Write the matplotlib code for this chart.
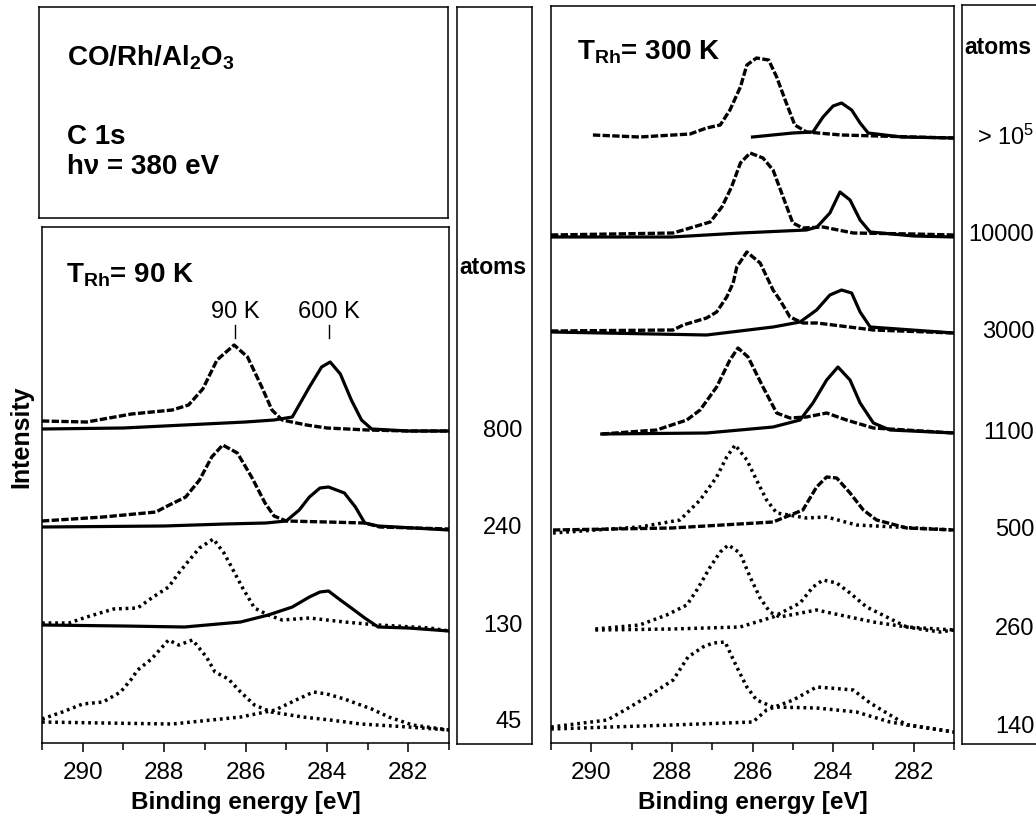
import matplotlib
matplotlib.use("Agg")
import numpy as np
import matplotlib.pyplot as plt
from matplotlib.ticker import MultipleLocator

plt.rcParams['font.family'] = ['Liberation Sans', 'DejaVu Sans']
plt.rcParams['mathtext.fontset'] = 'custom'
plt.rcParams['mathtext.rm'] = 'Liberation Sans'
plt.rcParams['mathtext.bf'] = 'Liberation Sans:bold'
plt.rcParams['mathtext.it'] = 'Liberation Sans:italic'

# --- DATA (arbitrary intensity units) ----------------------------------
# left panel: T_Rh = 90 K
LEFT_DOSES = ["800", "240", "130", "45"]
LEFT_BASE = [312, 215, 117, 21]

# 800 atoms: spectrum at 90 K / after 600 K
L800_90_E = [291.0, 289.9, 288.8, 287.8, 287.4, 287.05, 286.7, 286.28, 285.95, 285.6, 285.35, 285.1, 284.5, 284.0, 283.0, 282.0, 281.0]
L800_90_I = [10, 9, 17, 21, 26, 42, 71, 86, 74, 44, 21, 11, 6, 3, 1, 0, 0]
L800_600_E = [291.0, 289.0, 288.0, 287.0, 286.0, 285.3, 284.85, 284.43, 284.13, 283.92, 283.67, 283.4, 283.15, 282.9, 282.0, 281.0]
L800_600_I = [2, 3, 5, 7, 9, 11, 14, 44, 64, 69, 57, 31, 11, 2, 0, 0]

# 240 atoms
L240_90_E = [291.0, 289.5, 288.2, 287.97, 287.47, 287.13, 286.83, 286.56, 286.2, 285.85, 285.52, 285.3, 285.0, 284.0, 283.07, 282.7, 281.0]
L240_90_I = [7, 11, 16, 21, 31, 48, 71, 83, 75, 51, 25, 12, 7, 6, 5, 1, -1]
L240_600_E = [291.0, 288.0, 286.5, 285.5, 285.0, 284.68, 284.43, 284.17, 283.96, 283.57, 283.3, 283.07, 282.74, 281.0]
L240_600_I = [1, 2, 4, 5, 7, 18, 31, 40, 41, 35, 21, 5, 2, -2]

# 130 atoms
L130_90_E = [291.0, 290.34, 289.9, 289.24, 288.65, 288.27, 287.89, 287.64, 287.42, 287.13, 286.79, 286.53, 286.37, 286.07, 285.78, 285.44, 285.1, 284.43, 283.57, 282.74, 281.47, 281.0]
L130_90_I = [3, 3, 9, 17, 18, 29, 39, 53, 64, 78, 87, 73, 61, 38, 18, 11, 6, 8, 4, 1, -2, -5]
L130_600_E = [291.0, 289.0, 287.5, 286.12, 285.44, 284.85, 284.43, 284.17, 283.96, 283.67, 283.4, 283.07, 282.74, 282.0, 281.0]
L130_600_I = [1, 0, -1, 4, 11, 19, 29, 34, 35, 26, 18, 8, -1, -2, -5]

# 45 atoms
L45_90_E = [291.0, 290.5, 290.0, 289.5, 289.07, 288.82, 288.65, 288.31, 287.89, 287.64, 287.3, 286.96, 286.75, 286.42, 286.12, 285.78, 285.36, 284.6, 283.92, 283.16, 282.0, 281.0]
L45_90_I = [3, 10, 18, 20, 30, 42, 52, 63, 82, 77, 82, 65, 50, 43, 30, 17, 10, 5, 2, -2, -5, -8]
L45_600_E = [291.0, 289.5, 287.8, 286.12, 285.27, 284.76, 284.33, 284.0, 283.57, 283.24, 282.9, 282.48, 281.9, 281.0]
L45_600_I = [0, -1, -2, 5, 12, 22, 30, 28, 23, 18, 13, 5, -3, -8]

# right panel: T_Rh = 300 K
RIGHT_DOSES = [r"> 10$^5$", "10000", "3000", "1100", "500", "260", "140"]
RIGHT_BASE = [606, 508, 411, 310, 213, 114, 16]

R1E5_90_E = [289.96, 288.8, 287.55, 287.14, 286.8, 286.56, 286.3, 286.14, 285.9, 285.6, 285.4, 285.19, 284.95, 284.66, 283.8, 282.0, 281.0]
R1E5_90_I = [2, 0, 3, 9, 12, 27, 50, 72, 79, 77, 60, 37, 12, 5, 2, 0, -1]
R1E5_600_E = [286.0, 285.0, 284.5, 284.25, 284.0, 283.79, 283.54, 283.33, 283.13, 282.3, 281.0]
R1E5_600_I = [0, 4, 5, 20, 31, 34, 27, 14, 4, 0, -1]

R10000_90_E = [291.0, 287.97, 287.55, 287.05, 286.76, 286.52, 286.3, 286.06, 285.74, 285.49, 285.24, 285.0, 284.75, 284.25, 283.5, 282.0, 281.0]
R10000_90_I = [0, 2, 7, 13, 28, 48, 72, 82, 77, 65, 38, 12, 7, 8, 2, 1, 0]
R10000_600_E = [291.0, 288.0, 286.3, 284.66, 284.4, 284.08, 283.83, 283.58, 283.33, 283.08, 282.0, 281.0]
R10000_600_I = [-2, -2, 2, 5, 8, 22, 43, 35, 15, 3, -1, -2]

R3000_90_E = [291.0, 287.97, 287.72, 287.14, 286.89, 286.64, 286.48, 286.39, 286.14, 285.81, 285.49, 285.32, 285.07, 284.75, 284.4, 283.0, 281.0]
R3000_90_I = [1, 2, 7, 14, 20, 35, 49, 65, 80, 69, 42, 32, 15, 9, 9, 2, -1]
R3000_600_E = [291.0, 287.14, 285.49, 284.82, 284.41, 284.08, 283.79, 283.54, 283.33, 283.08, 281.0]
R3000_600_I = [0, -3, 5, 10, 22, 37, 42, 39, 20, 5, -1]

R1100_90_E = [289.74, 288.38, 287.63, 287.3, 286.89, 286.56, 286.36, 286.11, 285.74, 285.4, 285.07, 284.66, 284.16, 283.67, 283.0, 281.0]
R1100_90_I = [-1, 3, 13, 23, 46, 73, 85, 76, 46, 20, 15, 16, 20, 13, 5, 0]
R1100_600_E = [289.74, 287.14, 285.49, 284.82, 284.5, 284.16, 283.88, 283.58, 283.33, 283.0, 282.59, 281.0]
R1100_600_I = [-1, 0, 6, 13, 30, 53, 66, 53, 30, 10, 3, 0]

R500_90_E = [290.95, 288.8, 287.8, 287.3, 286.89, 286.64, 286.43, 286.14, 285.9, 285.65, 285.4, 284.66, 284.16, 283.42, 281.0]
R500_90_I = [-3, 3, 10, 30, 53, 73, 85, 70, 50, 30, 17, 12, 13, 5, 0]
R500_600_E = [290.95, 288.0, 285.49, 284.75, 284.41, 284.16, 283.91, 283.58, 283.25, 282.92, 282.17, 281.0]
R500_600_I = [0, 2, 8, 20, 43, 53, 52, 37, 20, 10, 2, 0]

R260_90_E = [289.9, 288.8, 288.13, 287.63, 287.38, 287.05, 286.8, 286.6, 286.31, 286.06, 285.81, 285.57, 285.32, 284.41, 283.83, 283.0, 281.35, 281.0]
R260_90_I = [0, 4, 14, 24, 39, 62, 77, 84, 76, 52, 31, 17, 12, 19, 14, 7, -3, -1]
R260_600_E = [289.9, 288.0, 286.31, 285.49, 284.82, 284.5, 284.25, 283.91, 283.58, 283.17, 282.67, 282.17, 281.0]
R260_600_I = [-1, 0, 2, 12, 26, 42, 49, 46, 36, 22, 12, 2, -1]

R140_90_E = [291.0, 289.6, 289.04, 288.54, 287.97, 287.6, 287.23, 286.98, 286.68, 286.39, 286.14, 285.9, 285.49, 284.41, 283.42, 282.59, 281.0]
R140_90_I = [0, 7, 20, 32, 47, 70, 80, 84, 85, 60, 40, 27, 20, 19, 15, 5, -5]
R140_600_E = [291.0, 288.0, 285.99, 285.65, 284.99, 284.41, 284.08, 283.5, 283.08, 282.67, 282.17, 281.0]
R140_600_I = [-2, 2, 5, 17, 27, 40, 39, 37, 24, 14, 2, -5]

PEAK_LABELS = ["90 K", "600 K"]
PEAK_E = [286.25, 283.95]
# ------------------------------------------------------------------------

LEFT_SPECTRA = [
    (L800_90_E, L800_90_I, L800_600_E, L800_600_I),
    (L240_90_E, L240_90_I, L240_600_E, L240_600_I),
    (L130_90_E, L130_90_I, L130_600_E, L130_600_I),
    (L45_90_E, L45_90_I, L45_600_E, L45_600_I),
]
RIGHT_SPECTRA = [
    (R1E5_90_E, R1E5_90_I, R1E5_600_E, R1E5_600_I),
    (R10000_90_E, R10000_90_I, R10000_600_E, R10000_600_I),
    (R3000_90_E, R3000_90_I, R3000_600_E, R3000_600_I),
    (R1100_90_E, R1100_90_I, R1100_600_E, R1100_600_I),
    (R500_90_E, R500_90_I, R500_600_E, R500_600_I),
    (R260_90_E, R260_90_I, R260_600_E, R260_600_I),
    (R140_90_E, R140_90_I, R140_600_E, R140_600_I),
]

# line styles: dense data -> near solid, noisy low doses -> dotted
DENSE = dict(color="black", lw=2.4, ls=(0, (2.2, 0.7)))
SOLID = dict(color="black", lw=2.3, ls="-", solid_joinstyle="round")
DOTS = dict(color="black", lw=2.5, ls=(0, (0.8, 1.1)))
LEFT_STYLES = [(DENSE, SOLID), (DENSE, SOLID), (DOTS, SOLID), (DOTS, DOTS)]
RIGHT_STYLES = [(DENSE, SOLID), (DENSE, SOLID), (DENSE, SOLID), (DENSE, SOLID),
                (DOTS, DENSE), (DOTS, DOTS), (DOTS, DOTS)]

W, H = 1036, 826


def px_axes(fig, left, top, right, bottom):
    return fig.add_axes([left / W, 1 - bottom / H, (right - left) / W, (bottom - top) / H])


def frame(ax):
    for s in ax.spines.values():
        s.set_linewidth(1.1)


def setup_spectrum_axis(ax, ymax):
    ax.set_xlim(291, 281)
    ax.set_ylim(0, ymax)
    ax.xaxis.set_major_locator(MultipleLocator(2))
    ax.xaxis.set_minor_locator(MultipleLocator(1))
    ax.tick_params(axis="x", which="major", direction="out", length=6.5, width=1.1,
                   labelsize=17.5, pad=7.5)
    ax.tick_params(axis="x", which="minor", direction="out", length=5, width=1.1)
    ax.set_yticks([])
    ax.set_xlabel("Binding energy [eV]", fontsize=17.5, fontweight="bold", labelpad=5)
    frame(ax)


def draw_spectra(ax, spectra, bases, styles):
    for (e1, i1, e2, i2), base, (s1, s2) in zip(spectra, bases, styles):
        ax.plot(e2, base + np.array(i2), **s2)
        ax.plot(e1, base + np.array(i1), **s1)


def side_box(fig, left, top, right, bottom, labels, bases, atoms_y, ymax):
    ax = px_axes(fig, left, top, right, bottom)
    ax.set_xlim(0, 1)
    ax.set_ylim(-1, ymax)
    ax.set_xticks([])
    ax.set_yticks([])
    frame(ax)
    ax.text(0.03, atoms_y, "atoms", fontsize=16.5, fontweight="bold", ha="left", va="center")
    for lab, b in zip(labels, bases):
        ax.text(0.87, b, lab, fontsize=17, ha="right", va="center")
    return ax


def main():
    fig = plt.figure(figsize=(W / 100, H / 100), dpi=100)

    # top-left info box
    info = px_axes(fig, 39, 7, 448, 218)
    info.set_xticks([])
    info.set_yticks([])
    frame(info)
    info.text(0.068, 0.76, r"CO/Rh/Al$_\mathbf{2}$O$_\mathbf{3}$", fontsize=20,
              fontweight="bold", va="center", transform=info.transAxes)
    info.text(0.068, 0.385, "C 1s", fontsize=20, fontweight="bold", va="center",
              transform=info.transAxes)
    info.text(0.068, 0.24, "h\u03bd = 380 eV", fontsize=20, fontweight="bold",
              va="center", transform=info.transAxes)

    # left spectra
    axl = px_axes(fig, 42, 227, 449, 743)
    setup_spectrum_axis(axl, 516)
    draw_spectra(axl, LEFT_SPECTRA, LEFT_BASE, LEFT_STYLES)
    axl.text(290.4, 468, r"$\mathbf{T_{Rh}}$= 90 K", fontsize=20, fontweight="bold",
             va="center", ha="left")
    for lab, e in zip(PEAK_LABELS, PEAK_E):
        axl.text(e, 431, lab, fontsize=17, ha="center", va="center")
        axl.plot([e, e], [405, 418], color="black", lw=1.0)

    side_box(fig, 457, 7, 532, 744, LEFT_DOSES, LEFT_BASE, 476, 736)

    # right spectra
    axr = px_axes(fig, 551, 6, 954, 743)
    setup_spectrum_axis(axr, 737)
    draw_spectra(axr, RIGHT_SPECTRA, RIGHT_BASE, RIGHT_STYLES)
    axr.text(290.36, 691, r"$\mathbf{T_{Rh}}$= 300 K", fontsize=20, fontweight="bold",
             va="center", ha="left")

    side_box(fig, 962, 5, 1045, 744, RIGHT_DOSES, RIGHT_BASE, 696, 738)

    fig.text(21 / W, 1 - 437 / H, "Intensity", rotation=90, fontsize=18,
             fontweight="bold", ha="center", va="center")

    fig.savefig("out.png", dpi=100)


if __name__ == "__main__":
    main()
